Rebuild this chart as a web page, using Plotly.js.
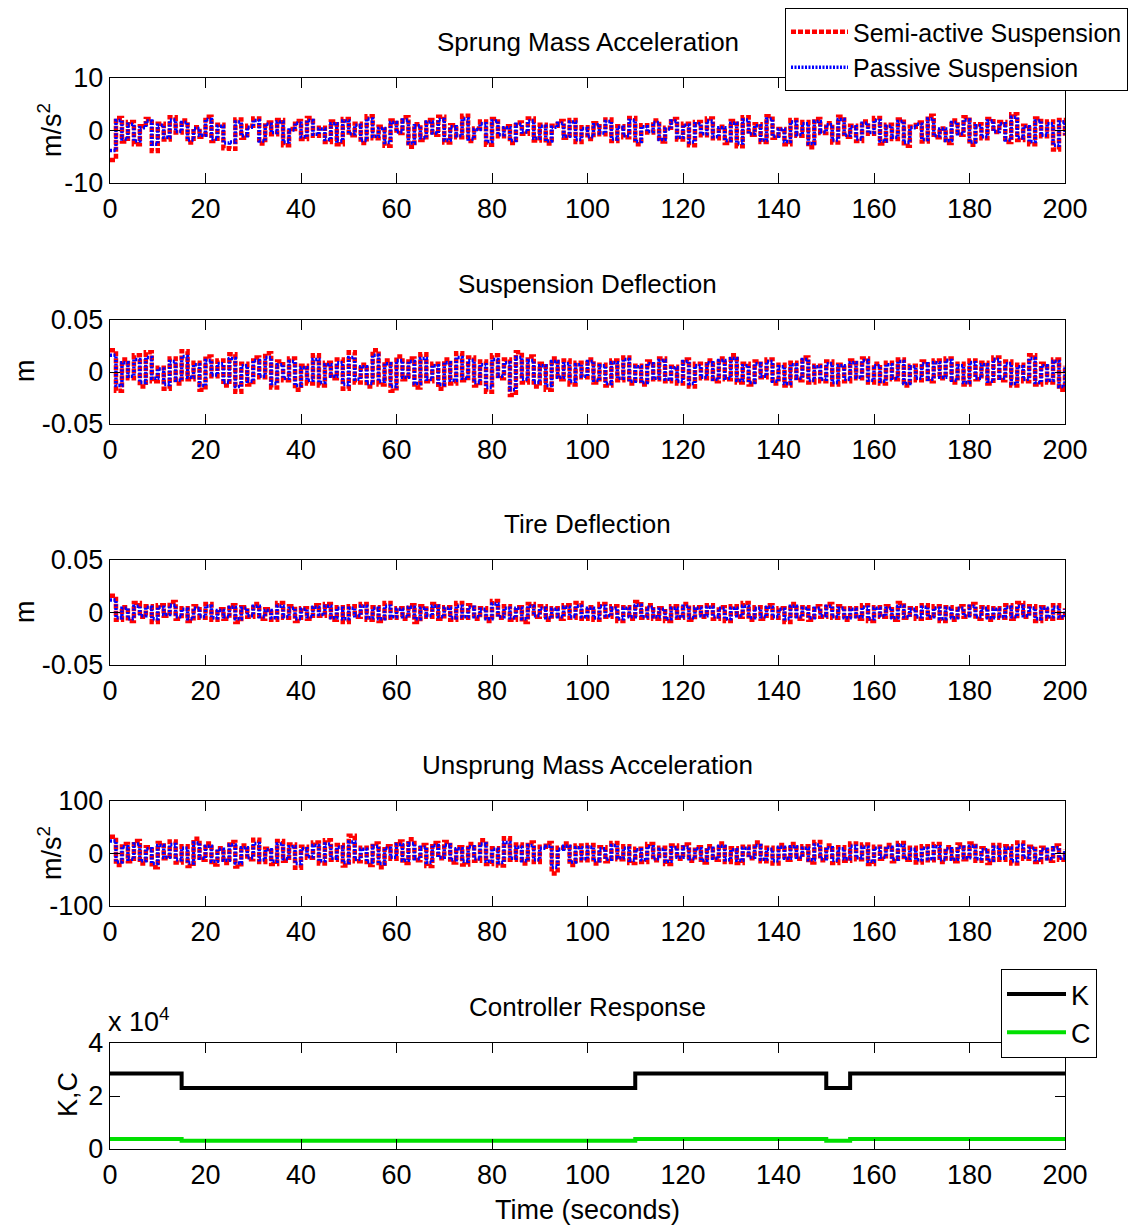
<!DOCTYPE html>
<html><head><meta charset="utf-8">
<script src="https://cdn.plot.ly/plotly-3.0.1.min.js"></script>
<style>body{margin:0;background:#fff}#chart{width:1139px;height:1230px}</style>
</head><body><div id="chart"></div>
<script>
// ---- data ----
const T_END = 200;
const accSemi = [-5.6,2.4,-2.1,1.6,-2.6,0.8,2.2,-3.9,1.3,-1.7,2.5,-0.4,1.9,-2.3,0.6,-1.2,2.6,-2.0,1.1,-3.4,
-3.5,2.1,-1.4,0.9,2.3,-2.5,1.5,-0.7,2.0,-2.8,0.3,1.8,-1.6,2.4,-1.0,0.5,-2.2,1.7,-2.6,2.2,
-0.9,1.3,-2.4,2.7,-1.5,0.7,-2.9,1.9,-0.5,2.5,-3.1,1.2,-1.8,2.0,-0.8,2.6,-2.3,1.0,-1.3,2.8,
-2.0,0.4,1.7,-2.7,2.2,-1.1,0.8,-2.4,1.5,-0.6,2.3,-1.9,1.1,-2.5,0.9,1.8,-1.4,2.0,-2.2,0.6,
-1.6,1.4,-0.7,2.1,-2.0,0.8,-1.3,2.4,-2.6,1.0,-0.4,1.9,-2.1,0.5,2.2,-1.7,1.3,-2.8,1.6,-0.9,
2.3,-1.5,0.7,-2.4,1.8,-3.0,2.5,-0.8,1.2,-2.2,2.7,-1.4,0.3,-2.6,2.0,-1.0,1.6,-3.2,2.2,-0.5,
1.4,-2.3,2.6,-1.2,0.9,-2.0,1.7,-0.6,2.4,-2.5,1.1,-1.6,2.1,-2.9,0.7,1.5,-2.1,2.8,-1.3,0.4,
-2.4,1.9,-0.8,2.5,-2.7,1.2,-1.5,2.2,-0.3,1.6,-2.2,3.1,-1.8,0.9,-2.6,2.3,-1.1,1.7,-3.6,2.0,-1.0];
const accPas = [-3.8,1.9,-1.6,1.2,-2.0,0.5,1.8,-2.6,1.0,-1.3,2.0,-0.2,1.5,-1.8,0.4,-0.9,2.1,-1.6,0.8,-2.4,
-2.2,1.6,-1.0,0.6,1.9,-2.0,1.2,-0.4,1.6,-2.2,0.1,1.4,-1.2,1.9,-0.7,0.3,-1.7,1.3,-2.0,1.8,
-0.6,1.0,-1.9,2.2,-1.1,0.4,-2.3,1.5,-0.3,2.0,-2.4,0.9,-1.4,1.6,-0.5,2.1,-1.8,0.7,-1.0,2.2,
-1.6,0.2,1.3,-2.1,1.8,-0.8,0.5,-1.9,1.2,-0.3,1.8,-1.5,0.8,-2.0,0.6,1.4,-1.1,1.6,-1.7,0.4,
-1.2,1.1,-0.5,1.7,-1.6,0.6,-1.0,1.9,-2.1,0.7,-0.2,1.5,-1.7,0.3,1.8,-1.3,1.0,-2.2,1.3,-0.6,
1.8,-1.2,0.5,-1.9,1.4,-2.4,2.0,-0.6,0.9,-1.8,2.2,-1.1,0.2,-2.1,1.6,-0.8,1.3,-2.5,1.7,-0.3,
1.1,-1.8,2.1,-0.9,0.7,-1.6,1.4,-0.4,1.9,-2.0,0.8,-1.3,1.7,-2.3,0.5,1.2,-1.7,2.2,-1.0,0.3,
-1.9,1.5,-0.6,2.0,-2.2,0.9,-1.2,1.8,-0.2,1.3,-1.8,2.5,-1.4,0.7,-2.1,1.8,-0.9,1.3,-2.8,1.6,-0.8];
const deflSemi = [0.021,-0.018,0.012,-0.006,0.016,-0.014,0.019,-0.009,0.004,-0.016,0.013,-0.011,0.020,-0.007,0.009,-0.017,0.015,-0.004,0.011,-0.013,
0.017,-0.019,0.008,-0.012,0.014,-0.005,0.018,-0.015,0.010,-0.008,0.013,-0.017,0.006,-0.011,0.016,-0.013,0.009,-0.006,0.012,-0.016,
0.019,-0.010,0.007,-0.014,0.021,-0.012,0.011,-0.018,0.015,-0.007,0.013,-0.015,0.017,-0.009,0.008,-0.016,0.012,-0.011,0.018,-0.008,
0.014,-0.013,0.010,-0.019,0.016,-0.006,0.012,-0.022,0.019,-0.010,0.015,-0.014,0.008,-0.017,0.013,-0.007,0.011,-0.012,0.009,-0.005,
0.012,-0.010,0.007,-0.013,0.011,-0.008,0.014,-0.011,0.006,-0.012,0.010,-0.007,0.013,-0.009,0.005,-0.011,0.012,-0.014,0.008,-0.006,
0.011,-0.009,0.013,-0.007,0.016,-0.010,0.008,-0.012,0.010,-0.005,0.012,-0.011,0.007,-0.013,0.009,-0.008,0.014,-0.010,0.006,-0.009,
0.010,-0.012,0.007,-0.009,0.011,-0.006,0.013,-0.010,0.008,-0.011,0.009,-0.007,0.012,-0.013,0.006,-0.008,0.010,-0.009,0.011,-0.006,
0.013,-0.010,0.008,-0.012,0.011,-0.007,0.009,-0.011,0.014,-0.008,0.010,-0.013,0.007,-0.009,0.016,-0.012,0.008,-0.010,0.012,-0.017,0.006];
const deflPas = [0.016,-0.013,0.009,-0.004,0.012,-0.010,0.014,-0.006,0.003,-0.012,0.010,-0.008,0.015,-0.005,0.007,-0.013,0.011,-0.003,0.008,-0.010,
0.013,-0.014,0.006,-0.009,0.011,-0.004,0.014,-0.011,0.007,-0.006,0.010,-0.013,0.004,-0.008,0.012,-0.010,0.007,-0.004,0.009,-0.012,
0.014,-0.007,0.005,-0.011,0.016,-0.009,0.008,-0.014,0.011,-0.005,0.010,-0.011,0.013,-0.007,0.006,-0.012,0.009,-0.008,0.014,-0.006,
0.011,-0.010,0.007,-0.015,0.012,-0.004,0.009,-0.017,0.014,-0.007,0.011,-0.010,0.006,-0.013,0.010,-0.005,0.008,-0.009,0.007,-0.004,
0.010,-0.008,0.006,-0.011,0.009,-0.006,0.012,-0.009,0.005,-0.010,0.008,-0.006,0.011,-0.007,0.004,-0.009,0.010,-0.011,0.006,-0.005,
0.009,-0.007,0.011,-0.006,0.013,-0.008,0.006,-0.010,0.008,-0.004,0.010,-0.009,0.005,-0.011,0.007,-0.006,0.012,-0.008,0.005,-0.007,
0.008,-0.010,0.006,-0.007,0.009,-0.005,0.011,-0.008,0.006,-0.009,0.007,-0.006,0.010,-0.011,0.005,-0.006,0.008,-0.007,0.009,-0.005,
0.011,-0.008,0.006,-0.010,0.009,-0.006,0.007,-0.009,0.012,-0.006,0.008,-0.011,0.005,-0.007,0.013,-0.010,0.006,-0.008,0.010,-0.014,0.005];
const tireSemi = [0.016,-0.007,0.005,-0.008,0.009,-0.004,0.006,-0.009,0.007,-0.003,0.010,-0.006,0.004,-0.008,0.006,-0.005,0.008,-0.007,0.003,-0.006,
0.007,-0.009,0.005,-0.004,0.008,-0.006,0.003,-0.007,0.009,-0.005,0.006,-0.008,0.004,-0.006,0.007,-0.003,0.008,-0.007,0.005,-0.009,
0.006,-0.004,0.008,-0.007,0.005,-0.008,0.009,-0.005,0.004,-0.006,0.007,-0.009,0.006,-0.004,0.008,-0.006,0.005,-0.007,0.009,-0.005,
0.007,-0.006,0.004,-0.008,0.011,-0.005,0.006,-0.007,0.005,-0.009,0.008,-0.004,0.006,-0.007,0.004,-0.006,0.007,-0.005,0.009,-0.006,
0.005,-0.007,0.008,-0.004,0.006,-0.008,0.005,-0.006,0.010,-0.005,0.007,-0.006,0.004,-0.008,0.006,-0.005,0.008,-0.007,0.005,-0.004,
0.007,-0.006,0.005,-0.008,0.006,-0.004,0.009,-0.007,0.005,-0.006,0.007,-0.005,0.004,-0.009,0.008,-0.006,0.005,-0.007,0.006,-0.004,
0.008,-0.005,0.006,-0.007,0.004,-0.006,0.007,-0.008,0.005,-0.004,0.006,-0.007,0.009,-0.005,0.004,-0.006,0.007,-0.005,0.006,-0.008,
0.005,-0.007,0.006,-0.004,0.008,-0.006,0.005,-0.007,0.004,-0.005,0.007,-0.006,0.009,-0.004,0.006,-0.008,0.005,-0.006,0.007,-0.005,0.004];
const tirePas = [0.012,-0.005,0.004,-0.006,0.006,-0.003,0.005,-0.006,0.005,-0.002,0.007,-0.004,0.003,-0.006,0.004,-0.004,0.006,-0.005,0.002,-0.004,
0.005,-0.006,0.004,-0.003,0.006,-0.004,0.002,-0.005,0.006,-0.004,0.004,-0.006,0.003,-0.004,0.005,-0.002,0.006,-0.005,0.004,-0.006,
0.004,-0.003,0.006,-0.005,0.004,-0.006,0.006,-0.004,0.003,-0.004,0.005,-0.006,0.004,-0.003,0.006,-0.004,0.004,-0.005,0.006,-0.004,
0.005,-0.004,0.003,-0.006,0.008,-0.004,0.004,-0.005,0.004,-0.006,0.006,-0.003,0.004,-0.005,0.003,-0.004,0.005,-0.004,0.006,-0.004,
0.004,-0.005,0.006,-0.003,0.004,-0.006,0.004,-0.004,0.007,-0.004,0.005,-0.004,0.003,-0.006,0.004,-0.004,0.006,-0.005,0.004,-0.003,
0.005,-0.004,0.004,-0.006,0.004,-0.003,0.006,-0.005,0.004,-0.004,0.005,-0.004,0.003,-0.006,0.006,-0.004,0.004,-0.005,0.004,-0.003,
0.006,-0.004,0.004,-0.005,0.003,-0.004,0.005,-0.006,0.004,-0.003,0.004,-0.005,0.006,-0.004,0.003,-0.004,0.005,-0.004,0.004,-0.006,
0.004,-0.005,0.004,-0.003,0.006,-0.004,0.004,-0.005,0.003,-0.004,0.005,-0.004,0.006,-0.003,0.004,-0.006,0.004,-0.004,0.005,-0.004,0.003];
const uaccSemi = [32,-22,18,-15,24,-19,12,-26,20,-9,23,-17,14,-24,28,-12,19,-21,10,-18,
22,-25,15,-11,26,-16,9,-20,24,-14,17,-27,13,-8,21,-19,25,-12,16,-23,
34,-15,11,-22,19,-26,14,-10,23,-18,27,-13,16,-24,20,-9,22,-17,12,-21,
18,-14,25,-20,10,-23,29,-12,17,-19,21,-16,13,20,-38,11,19,-22,15,-13,
16,-19,12,-15,20,-11,14,-18,9,-16,18,-13,11,-20,15,-10,17,-14,12,-17,
14,-12,19,-16,10,-18,13,-9,21,-15,11,-19,16,-12,18,-10,14,-17,22,-13,
15,-18,12,-14,19,-11,17,-20,13,-10,16,-15,20,-12,11,-17,14,-13,18,-16,
12,-15,17,-11,19,-14,10,-18,16,-12,14,-19,21,-10,13,-16,11,-14,15,-12,8];
const uaccPas = [24,-16,13,-11,18,-14,9,-19,15,-7,17,-12,10,-18,20,-9,14,-15,8,-13,
16,-18,11,-8,19,-12,7,-15,18,-10,13,-19,9,-6,15,-14,18,-9,12,-17,
22,-11,8,-16,14,-19,10,-7,17,-13,19,-10,12,-17,15,-7,16,-12,9,-15,
13,-10,18,-15,8,-17,21,-9,12,-14,15,-12,10,14,-26,8,14,-16,11,-10,
12,-14,9,-11,15,-8,10,-13,7,-12,13,-10,8,-15,11,-7,12,-10,9,-13,
10,-9,14,-12,7,-13,10,-7,15,-11,8,-14,12,-9,13,-7,10,-12,16,-10,
11,-13,9,-10,14,-8,12,-15,10,-7,12,-11,15,-9,8,-12,10,-10,13,-12,
9,-11,12,-8,14,-10,7,-13,12,-9,10,-14,15,-7,10,-12,8,-10,11,-9,6];
const ctrlTime = [0, 15, 110, 150, 155, 200];
const kValues = [28500, 23000, 28500, 23000, 28500, 28500];
const cValues = [3800, 3100, 3800, 3100, 3800, 3800];
const xTicks = [0,20,40,60,80,100,120,140,160,180,200];
const titles = ['Sprung Mass Acceleration','Suspension Deflection','Tire Deflection','Unsprung Mass Acceleration','Controller Response'];

// ---- layout helpers ----
const W = 1139, H = 1230;
const FONT = 'Liberation Sans, Arial, sans-serif';
const xl = 110, xr = 1065;
const boxes = [[78,183],[320,424],[560,665],[801,906],[1043,1149]];
const timeOf = arr => arr.map((_, i) => i * T_END / (arr.length - 1));

const semiStyle = {color:'#ff0000', width:4.5, dash:'5px,2px'};
const pasStyle = {color:'#0000ff', width:3.5, dash:'2px,1.5px'};
const traces = [];
function pair(semi, pas, k, showleg) {
  const ax = k === 1 ? '' : String(k);
  traces.push({x: timeOf(semi), y: semi, xaxis:'x'+ax, yaxis:'y'+ax, mode:'lines', line:Object.assign({shape:'hv'}, semiStyle), name:'Semi-active Suspension', showlegend:showleg, legend:'legend'});
  traces.push({x: timeOf(pas), y: pas, xaxis:'x'+ax, yaxis:'y'+ax, mode:'lines', line:Object.assign({shape:'hv'}, pasStyle), name:'Passive Suspension', showlegend:showleg, legend:'legend'});
}
pair(accSemi, accPas, 1, true);
pair(deflSemi, deflPas, 2, false);
pair(tireSemi, tirePas, 3, false);
pair(uaccSemi, uaccPas, 4, false);
traces.push({x: ctrlTime, y: kValues, xaxis:'x5', yaxis:'y5', mode:'lines', line:{shape:'hv', color:'#000000', width:4}, name:'K', legend:'legend2'});
traces.push({x: ctrlTime, y: cValues, xaxis:'x5', yaxis:'y5', mode:'lines', line:{shape:'hv', color:'#00e000', width:4}, name:'C', legend:'legend2'});

const yTicks = [
  {vals:[-10,0,10], text:['-10','0','10'], range:[-10,10]},
  {vals:[-0.05,0,0.05], text:['-0.05','0','0.05'], range:[-0.05,0.05]},
  {vals:[-0.05,0,0.05], text:['-0.05','0','0.05'], range:[-0.05,0.05]},
  {vals:[-100,0,100], text:['-100','0','100'], range:[-100,100]},
  {vals:[0,20000,40000], text:['0','2','4'], range:[0,40000]}
];
const layout = {
  width: W, height: H, margin:{l:0,r:0,t:0,b:0,autoexpand:false},
  paper_bgcolor:'#fff', plot_bgcolor:'#fff',
  font:{family:FONT, size:26, color:'#000'},
  showlegend:true,
  legend:{x:785/W, y:1-8/H, xanchor:'left', yanchor:'top', bordercolor:'#000', borderwidth:1, bgcolor:'#fff', font:{size:25}, itemwidth:57, tracegroupgap:0},
  legend2:{x:1001/W, y:1-969/H, xanchor:'left', yanchor:'top', bordercolor:'#000', borderwidth:1, bgcolor:'#fff', font:{size:27}, itemwidth:59},
  annotations:[], shapes:[]
};
for (let k = 1; k <= 5; k++) {
  const [yt, yb] = boxes[k-1];
  const ax = k === 1 ? '' : String(k);
  layout['xaxis'+ax] = {domain:[xl/W, xr/W], range:[0,200], anchor:'y'+ax, tickvals:xTicks, ticktext:xTicks.map(String),
    ticks:'inside', ticklen:10, tickcolor:'#000', showline:true, linecolor:'#000', linewidth:1.3, mirror:'ticks', showgrid:false, zeroline:false,
    tickfont:{size:27}, ticklabelstandoff:1};
  layout['yaxis'+ax] = {domain:[1-yb/H, 1-yt/H], range:yTicks[k-1].range, anchor:'x'+ax, tickvals:yTicks[k-1].vals, ticktext:yTicks[k-1].text,
    ticks:'inside', ticklen:10, tickcolor:'#000', showline:true, linecolor:'#000', linewidth:1.3, mirror:'ticks', showgrid:false, zeroline:false,
    tickfont:{size:27}, ticklabelstandoff:0};
  layout.annotations.push({text:titles[k-1], xref:'paper', yref:'paper', x:(xl+xr)/2/W, y:1-(yt-36)/H, xanchor:'center', yanchor:'middle', showarrow:false, font:{size:26}});
}
const ylabels = [['m/s<sup>2</sup>',50,130],['m',25,371],['m',25,612],['m/s<sup>2</sup>',50,853],['K,C',68,1095]];
ylabels.forEach(([t,x,y]) => layout.annotations.push({text:t, xref:'paper', yref:'paper', x:x/W, y:1-y/H, xanchor:'center', yanchor:'middle', textangle:-90, showarrow:false, font:{size:27}}));
layout.annotations.push({text:'x 10<sup>4</sup>', xref:'paper', yref:'paper', x:106/W, y:1-1020/H, xanchor:'left', yanchor:'middle', showarrow:false, font:{size:27}});
layout.annotations.push({text:'Time (seconds)', xref:'paper', yref:'paper', x:(xl+xr)/2/W, y:1-1210/H, xanchor:'center', yanchor:'middle', showarrow:false, font:{size:27}});

Plotly.newPlot('chart', traces, layout, {staticPlot:true, displayModeBar:false});
</script></body></html>
